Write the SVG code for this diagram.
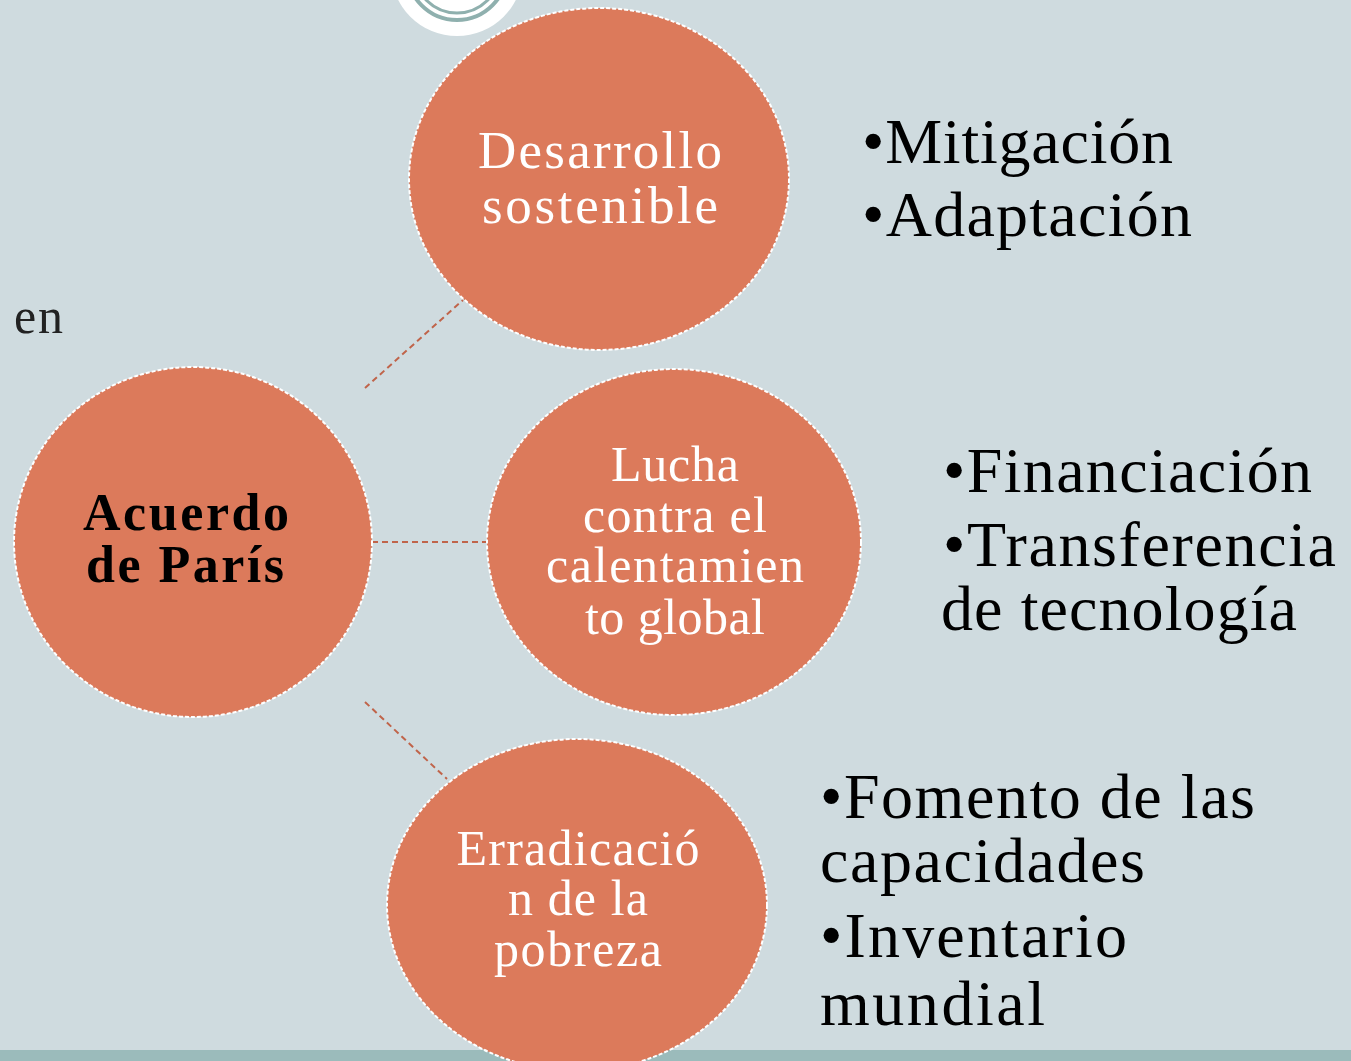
<svg xmlns="http://www.w3.org/2000/svg" width="1351" height="1061" viewBox="0 0 1351 1061">
<style>
.node{fill:#dc7a5b;stroke:#ffffff;stroke-width:2;stroke-dasharray:4 2}
.nt{font-family:"Liberation Serif",serif;font-size:50px;fill:#ffffff;text-anchor:middle}
.bt{font-family:"Liberation Serif",serif;font-size:52px;font-weight:bold;fill:#000;text-anchor:middle}
.side{font-family:"Liberation Serif",serif;font-size:64px;fill:#000}
.conn{stroke:#c0644a;stroke-width:2;stroke-dasharray:6 4;fill:none}
</style>
<rect x="0" y="0" width="1351" height="1061" fill="#cfdbdf"/>
<rect x="0" y="1050" width="1351" height="11" fill="#9bbbbb"/>
<g id="deco">
<circle cx="457" cy="-30" r="66" fill="#ffffff"/>
<circle cx="457" cy="-30" r="50" fill="none" stroke="#8fb0ae" stroke-width="4"/>
<circle cx="457" cy="-30" r="43" fill="none" stroke="#8fb0ae" stroke-width="3"/>
</g>
<text x="14" y="333" font-family="Liberation Serif, serif" font-size="50" fill="#222" textLength="49">en</text>
<g id="connectors">
<line class="conn" x1="365" y1="388" x2="463" y2="300"/>
<line class="conn" x1="372" y1="542" x2="487" y2="542"/>
<line class="conn" x1="365" y1="702" x2="447" y2="779"/>
</g>
<g id="node-desarrollo">
<ellipse class="node" cx="599" cy="179" rx="190" ry="171"/>
<text class="nt" x="600" y="168" textLength="244" style="font-size:53px">Desarrollo</text>
<text class="nt" x="600" y="223" textLength="236" style="font-size:53px">sostenible</text>
</g>
<g id="node-acuerdo">
<ellipse class="node" cx="193" cy="542" rx="179" ry="175"/>
<text class="bt" x="186" y="530" textLength="206">Acuerdo</text>
<text class="bt" x="185" y="582" textLength="198">de París</text>
</g>
<g id="node-lucha">
<ellipse class="node" cx="674" cy="542" rx="187" ry="173"/>
<text class="nt" x="675" y="481" textLength="128">Lucha</text>
<text class="nt" x="675" y="532" textLength="184">contra el</text>
<text class="nt" x="675" y="582" textLength="258">calentamien</text>
<text class="nt" x="675" y="634" textLength="180">to global</text>
</g>
<g id="node-erradicacion">
<ellipse class="node" cx="577" cy="905" rx="190" ry="166"/>
<text class="nt" x="578" y="865" textLength="243">Erradicació</text>
<text class="nt" x="578" y="915" textLength="140">n de la</text>
<text class="nt" x="578" y="966" textLength="168">pobreza</text>
</g>
<g id="list-1">
<text class="side" x="862" y="163" textLength="311">•Mitigación</text>
<text class="side" x="862" y="236" textLength="330">•Adaptación</text>
</g>
<g id="list-2">
<text class="side" x="943" y="492" textLength="369">•Financiación</text>
<text class="side" x="943" y="566" textLength="393">•Transferencia</text>
<text class="side" x="941" y="630" textLength="356">de tecnología</text>
</g>
<g id="list-3">
<text class="side" x="820" y="818" textLength="435">•Fomento de las</text>
<text class="side" x="820" y="882" textLength="325">capacidades</text>
<text class="side" x="820" y="957" textLength="307">•Inventario</text>
<text class="side" x="820" y="1025" textLength="225">mundial</text>
</g>
</svg>
